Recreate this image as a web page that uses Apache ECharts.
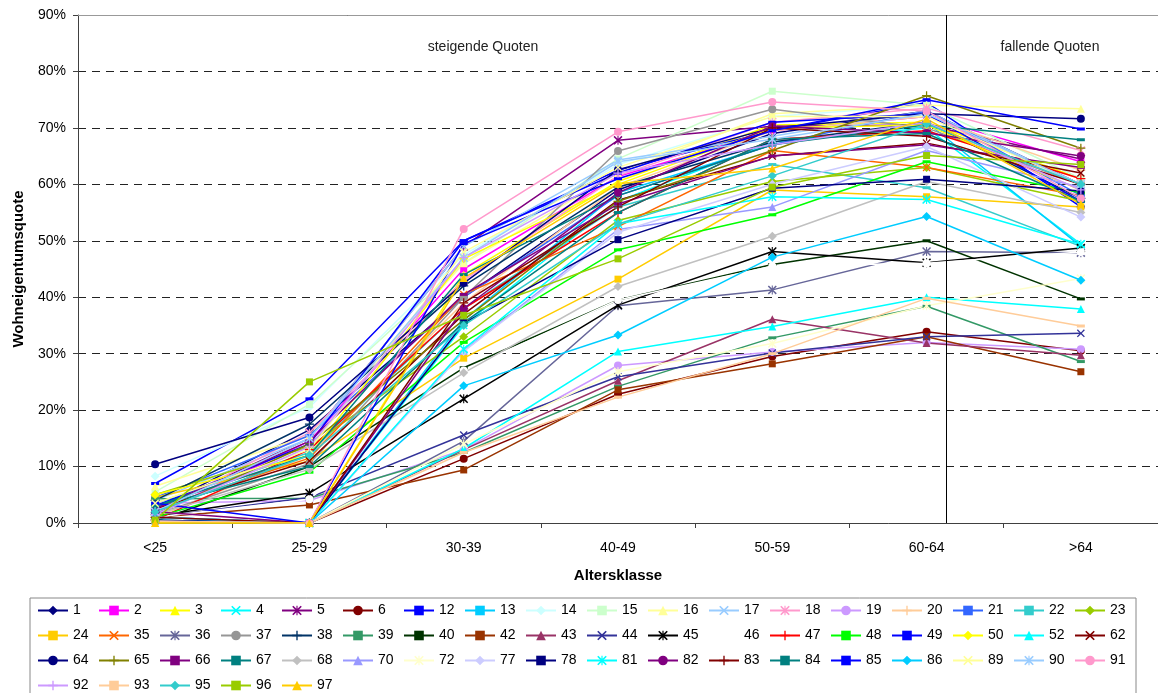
<!DOCTYPE html>
<html>
<head>
<meta charset="utf-8">
<script src="https://cdn.jsdelivr.net/npm/echarts@6/dist/echarts.min.js"></script>
<style>
  html, body { margin: 0; padding: 0; background: #fff; }
  #chart { width: 1158px; height: 693px; }
</style>
</head>
<body>
<div id="chart"></div>
<script>
// Altersklassen (x-Achse)
const categories = ['<25', '25-29', '30-39', '40-49', '50-59', '60-64', '>64'];
const yTicks = [0, 10, 20, 30, 40, 50, 60, 70, 80, 90];

// Reihen (Regionen)
const seriesNames = ['1','2','3','4','5','6','12','13','14','15','16','17','18','19','20','21','22','23',
  '24','35','36','37','38','39','40','42','43','44','45','46','47','48','49','50','52','62',
  '64','65','66','67','68','70','72','77','78','81','82','83','84','85','86','89','90','91',
  '92','93','95','96','97'];

// Wohneigentumsquote in %, eine Zeile je Reihe (gleiche Reihenfolge wie seriesNames)
const values = [
  [2.5, 16.5, 40, 59, 69, 73, 60],        // 1
  [1.5, 14.5, 45, 61.4, 69.5, 72, 64],    // 2
  [0, 0, 44, 60.5, 70.5, 71, 61],         // 3
  [0.5, 0, 35, 57, 67.5, 70, 49.4],       // 4
  [2.5, 15, 49, 67.8, 70.3, 70.5, 64.5],  // 5
  [0.3, 0, 11.4, 22.8, 29.5, 33.9, 30.5], // 6
  [7, 22, 50, 62.5, 69.5, 74.5, 56],      // 12
  [1, 0, 36, 58.5, 67, 71, 49],           // 13
  [8.3, 20.5, 47.5, 63.5, 72, 74, 61],    // 14
  [5.5, 21, 46, 64.5, 76.5, 74, 61],      // 15
  [6.5, 15.5, 46, 62, 72.5, 74, 73.4],    // 16
  [4, 15, 49, 64.3, 68.5, 73, 60],        // 17
  [2, 16, 43, 61.5, 71, 73.5, 66],        // 18
  [3.5, 4, 13, 27.9, 30.3, 32, 30.8],     // 19
  [1, 12, 39, 59.5, 69.5, 72, 62.5],      // 20
  [4.5, 15.5, 40, 58, 67, 73, 58],        // 21
  [3.5, 12.5, 38, 56, 63.5, 59.4, 49],    // 22
  [5, 13.5, 33, 53.6, 60.5, 63, 57],      // 23
  [4.5, 11, 29.2, 43.2, 59, 57.8, 56],    // 24
  [2.5, 11.5, 40.5, 52.5, 66, 63, 58],    // 35
  [1, 0, 14.5, 38.5, 41.3, 48.1, 47.9],   // 36
  [1.5, 10.5, 40, 65.9, 73.3, 70, 60],    // 37
  [4, 17.5, 42, 59.5, 67.5, 71, 57.5],    // 38
  [4.3, 4.4, 12.5, 24.2, 32.8, 38.4, 28.6], // 39
  [0.3, 10, 27.5, 39.5, 45.8, 50, 39.7],  // 40
  [1, 3.2, 9.4, 23.6, 28.2, 33, 26.8],    // 42
  [0.5, 0, 13, 25.2, 36.1, 31.9, 29.7],   // 43
  [1, 4.5, 15.6, 25.9, 30.1, 33, 33.6],   // 44
  [1.2, 5.3, 22, 38.6, 48.1, 46.1, 48.7], // 45
  [1, 4.2, 27, 39.5, 45.5, 46, 48],       // 46
  [0.5, 13, 38, 55, 68, 69.5, 61],        // 47
  [1, 9, 32, 48.4, 54.6, 64, 58.5],       // 48
  [3, 14, 50, 62, 71, 72.5, 57],          // 49
  [5, 12, 46.8, 60, 70, 70.5, 59],        // 50
  [0.5, 0, 13.2, 30.4, 34.8, 40, 37.9],   // 52
  [2.5, 11, 37, 57.2, 65, 67.3, 62],      // 62
  [10.4, 18.7, 42.5, 62.6, 70, 72.5, 71.6], // 64
  [1.5, 14, 36, 57, 66, 75.7, 66.4],      // 65
  [2.5, 14.5, 40.5, 56.5, 65, 67, 63],    // 66
  [3, 12, 44, 58, 67, 70.5, 67.9],        // 67
  [1.5, 9.5, 26.6, 41.9, 50.8, 60.5, 55], // 68
  [1, 0, 30.5, 52, 56, 66, 59.5],         // 70
  [2, 0, 14, 26.8, 31.8, 38.5, 43.3],     // 72
  [1, 0, 30.4, 51.5, 60, 66.7, 54.2],     // 77
  [0.5, 0, 35.4, 50.2, 59.3, 60.9, 58.8], // 78
  [1, 0, 30.8, 53, 57.8, 57.3, 49.4],     // 81
  [2, 0, 38, 58.5, 70.3, 69.1, 65],       // 82
  [1, 0, 39, 56, 70, 68.5, 60],           // 83
  [3, 10, 35.5, 55, 68, 69, 57],          // 84
  [3.5, 0, 49.5, 61, 69.5, 75, 69.8],     // 85
  [0.3, 0, 24.3, 33.3, 47.1, 54.3, 43],   // 86
  [3.5, 13, 48, 63, 72, 72, 60],          // 89
  [2, 15, 47, 64, 68, 72.5, 60],          // 90
  [0.3, 0, 52.1, 69.3, 74.6, 73, 57.5],   // 91
  [1.5, 13.5, 47, 62, 67, 71, 59],        // 92
  [0.3, 0, 12.5, 22.3, 30, 39.8, 34.9],   // 93
  [2, 12, 35, 53, 61.5, 70.7, 60],        // 95
  [0.5, 25, 36.8, 46.8, 59.5, 65.1, 63.5], // 96
  [0, 0, 43.4, 60.1, 62.8, 71.6, 56.5]    // 97
];

// Excel-Standardfarben und Marker je Reihe
const colors = ['#000080','#FF00FF','#FFFF00','#00FFFF','#800080','#800000','#0000FF','#00CCFF','#CCFFFF',
  '#CCFFCC','#FFFF99','#99CCFF','#FF99CC','#CC99FF','#FFCC99','#3366FF','#33CCCC','#99CC00',
  '#FFCC00','#FF6600','#666699','#969696','#003366','#339966','#003300','#993300','#993366',
  '#333399','#000000','#FFFFFF','#FF0000','#00FF00','#0000FF','#FFFF00','#00FFFF','#800000',
  '#000080','#808000','#800080','#008080','#C0C0C0','#9999FF','#FFFFCC','#CCCCFF','#000080',
  '#00FFFF','#800080','#800000','#008080','#0000FF','#00CCFF','#FFFF99','#99CCFF','#FF99CC',
  '#CC99FF','#FFCC99','#33CCCC','#99CC00','#FFCC00'];
// d=Raute s=Quadrat t=Dreieck x=Kreuz a=Stern c=Kreis p=Plus -=Strich
const markers = ('dstxac--dstxacp--d' + 'sxacp--stxacp--dtx' + 'cp--dtadsacp--dxac' + 'p-dst').split('');

const X_PATH = 'path://M0,1.2L1.2,0L5,3.8L8.8,0L10,1.2L6.2,5L10,8.8L8.8,10L5,6.2L1.2,10L0,8.8L3.8,5Z';
const PLUS_PATH = 'path://M4.3,0H5.7V4.3H10V5.7H5.7V10H4.3V5.7H0V4.3H4.3Z';
const AST_PATH = X_PATH + 'M4.4,0H5.6V10H4.4Z';

const symbolFor = {
  d: ['diamond', 9],
  s: ['rect', 7],
  t: ['triangle', 8],
  c: ['circle', 8],
  x: [X_PATH, 8],
  a: [AST_PATH, 9],
  p: [PLUS_PATH, 9],
  '-': ['rect', [8, 3]]
};

const FONT = '"Liberation Sans", Arial, sans-serif';

const chart = echarts.init(document.getElementById('chart'));

const series = seriesNames.map((name, i) => {
  const sym = symbolFor[markers[i]];
  return {
    name: name,
    type: 'line',
    data: values[i],
    symbol: sym[0],
    symbolSize: sym[1],
    showSymbol: true,
    lineStyle: { width: 1.5, color: colors[i] },
    itemStyle: { color: colors[i] },
    emphasis: { disabled: true }
  };
});

// Trennlinie zwischen "steigende" und "fallende Quoten"
series.push({
  type: 'line',
  xAxisIndex: 1,
  data: [],
  markLine: {
    silent: true,
    symbol: 'none',
    label: { show: false },
    lineStyle: { color: '#000', width: 1, type: 'solid' },
    data: [{ xAxis: 5.63 }]
  }
});

chart.setOption({
  animation: false,
  backgroundColor: '#fff',
  textStyle: { fontFamily: FONT },
  grid: { left: 78, width: 1085, top: 15, bottom: 170 },
  xAxis: [{
    type: 'category',
    data: categories,
    boundaryGap: true,
    name: 'Altersklasse',
    nameLocation: 'middle',
    nameGap: 45,
    nameTextStyle: { fontSize: 15, fontWeight: 'bold', color: '#000', fontFamily: FONT },
    axisLine: { lineStyle: { color: '#404040', width: 1 } },
    axisTick: { show: true, length: 5, lineStyle: { color: '#404040' } },
    axisLabel: { fontSize: 14, color: '#000', margin: 18, fontFamily: FONT }
  }, {
    type: 'value',
    position: 'top',
    min: 0,
    max: 7,
    axisLine: { show: true, lineStyle: { color: '#999', width: 1 } },
    axisTick: { show: false },
    axisLabel: { show: false },
    splitLine: { show: false }
  }],
  yAxis: {
    type: 'value',
    min: yTicks[0],
    max: yTicks[yTicks.length - 1],
    interval: 10,
    name: 'Wohneigentumsquote',
    nameLocation: 'middle',
    nameRotate: 90,
    nameGap: 52,
    nameTextStyle: { fontSize: 15, fontWeight: 'bold', color: '#000', fontFamily: FONT },
    axisLine: { show: true, lineStyle: { color: '#404040', width: 1 } },
    axisTick: { show: true, length: 5, lineStyle: { color: '#404040' } },
    axisLabel: { fontSize: 14, color: '#000', margin: 12, formatter: '{value}%', fontFamily: FONT },
    splitLine: { show: true, lineStyle: { color: '#222', width: 1, type: [8, 6] } }
  },
  legend: {
    data: seriesNames,
    left: 30,
    top: 598,
    width: 1120,
    orient: 'horizontal',
    padding: [3, 7, 3, 7],
    itemWidth: 30,
    itemHeight: 12,
    itemGap: 6,
    borderColor: '#888',
    borderWidth: 1,
    selectedMode: false,
    formatter: '{n|{name}}',
    textStyle: {
      fontSize: 14, color: '#000', fontFamily: FONT, lineHeight: 19,
      rich: { n: { width: 19, height: 19, fontSize: 14, lineHeight: 19, color: '#000', fontFamily: FONT } }
    }
  },
  graphic: [
    { type: 'text', x: 483, y: 47, style: { text: 'steigende Quoten', fontSize: 14, fontFamily: FONT, fill: '#222', textAlign: 'center', textVerticalAlign: 'middle' } },
    { type: 'text', x: 1050, y: 47, style: { text: 'fallende Quoten', fontSize: 14, fontFamily: FONT, fill: '#222', textAlign: 'center', textVerticalAlign: 'middle' } }
  ],
  series: series
});
</script>
</body>
</html>
